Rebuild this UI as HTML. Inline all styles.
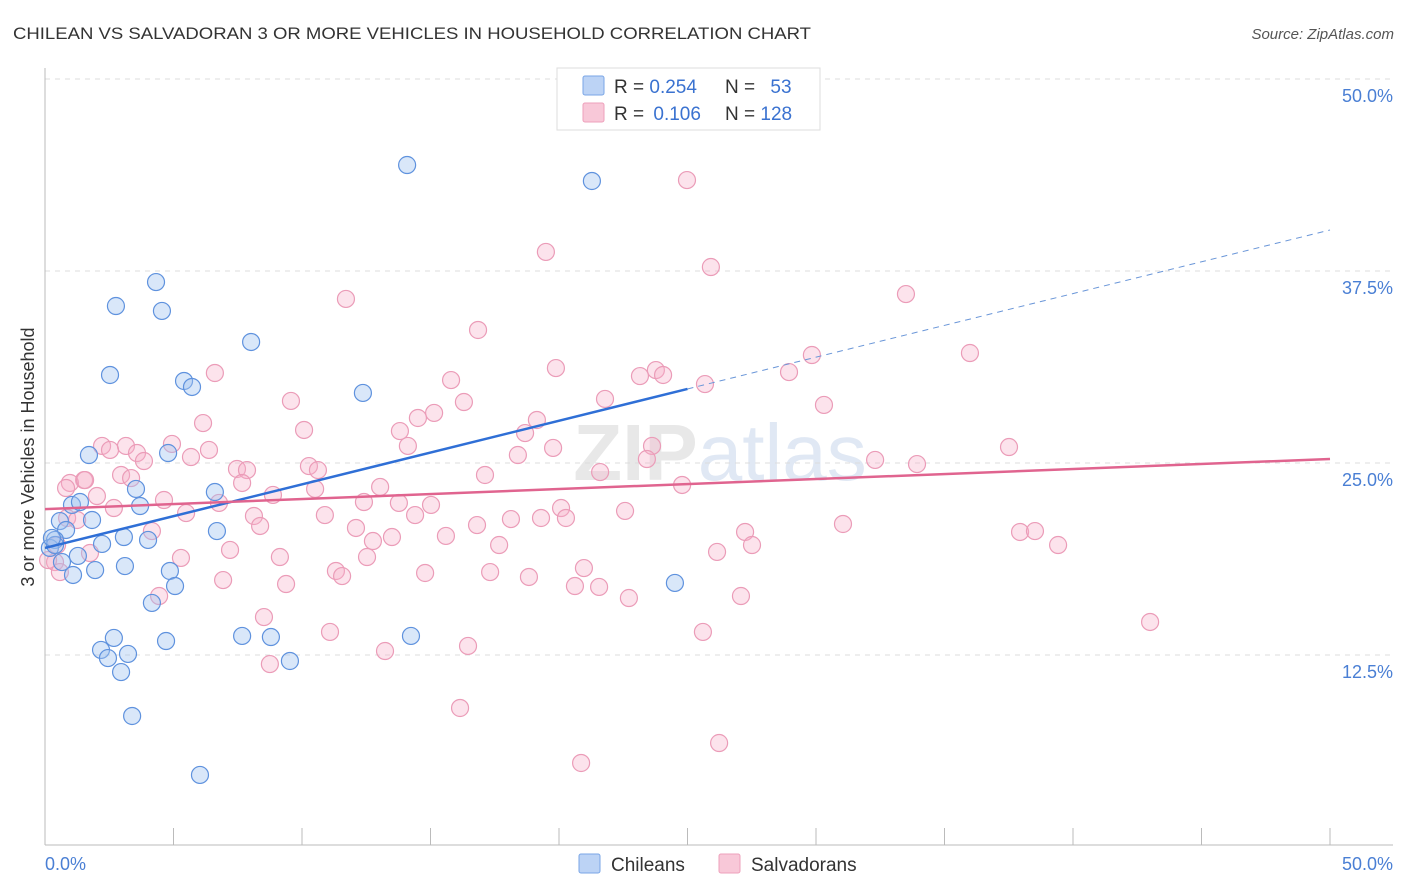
<!DOCTYPE html>
<html><head><meta charset="utf-8"><style>
body{margin:0;background:#fff;font-family:"Liberation Sans",sans-serif}
svg{display:block}
</style></head><body>
<svg id="chart" width="1406" height="892" xmlns="http://www.w3.org/2000/svg">
<text x="13" y="39" font-size="17" fill="#333" textLength="798" lengthAdjust="spacingAndGlyphs">CHILEAN VS SALVADORAN 3 OR MORE VEHICLES IN HOUSEHOLD CORRELATION CHART</text>
<text x="1394" y="39" font-size="15" fill="#555" text-anchor="end" font-style="italic">Source: ZipAtlas.com</text>
<text x="720" y="480" font-size="80" fill="#e8e8e8" text-anchor="middle" font-weight="bold">ZIP<tspan fill="#e0e8f4" font-weight="normal">atlas</tspan></text>
<g id="grid"></g>
<g id="axes"></g>
<g id="pinkPts"></g>
<g id="bluePts"></g>
<g id="lines"></g>
<text transform="translate(34,457) rotate(-90)" font-size="18" fill="#333" text-anchor="middle">3 or more Vehicles in Household</text>
<text x="45" y="870" font-size="18" fill="#4a7fd4">0.0%</text>
<text x="1393" y="870" font-size="18" fill="#4a7fd4" text-anchor="end">50.0%</text>
<g>
<rect x="557" y="68" width="263" height="62" fill="#fff" stroke="#ddd"/>
<rect x="583" y="76" width="21" height="19" fill="#bcd3f5" stroke="#7aa6e6" rx="2"/>
<rect x="583" y="103" width="21" height="19" fill="#f8c8d8" stroke="#eea0bb" rx="2"/>
<text x="614" y="93" font-size="19" fill="#333">R = <tspan fill="#3a72d0">0.254</tspan></text>
<text x="725" y="93" font-size="19" fill="#333">N = <tspan fill="#3a72d0" dx="10">53</tspan></text>
<text x="614" y="120" font-size="19" fill="#333">R = <tspan fill="#3a72d0" dx="4">0.106</tspan></text>
<text x="725" y="120" font-size="19" fill="#333">N = <tspan fill="#3a72d0">128</tspan></text>
</g>
<g>
<rect x="579" y="854" width="21" height="19" fill="#bcd3f5" stroke="#7aa6e6" rx="2"/>
<text x="611" y="871" font-size="19" fill="#333">Chileans</text>
<rect x="719" y="854" width="21" height="19" fill="#f8c8d8" stroke="#eea0bb" rx="2"/>
<text x="751" y="871" font-size="19" fill="#333">Salvadorans</text>
</g>
</svg>
<script>
const yTicks=[12.5,25,37.5,50];
const yTickLabels=["12.5%","25.0%","37.5%","50.0%"];
const xTicks=[5,10,15,20,25,30,35,40,45,50];
const blueX=[14.09,21.28,4.32,2.76,4.55,8.02,2.53,5.41,5.72,12.37,1.71,4.79,3.54,6.61,1.05,1.36,3.70,1.83,0.58,0.82,6.69,3.07,4.01,2.22,0.39,0.19,1.28,0.66,3.11,1.95,4.86,1.09,5.06,4.16,24.51,2.68,4.71,7.67,8.79,14.24,2.18,3.23,2.45,9.53,2.96,3.39,6.03,0.39,0.27];
const blueY=[44.4,43.36,36.78,35.22,34.9,32.88,30.73,30.34,29.95,29.56,25.52,25.65,23.31,23.11,22.27,22.46,22.2,21.29,21.22,20.64,20.57,20.18,19.99,19.73,19.99,19.47,18.95,18.55,18.29,18.03,17.97,17.71,16.99,15.89,17.19,13.61,13.41,13.74,13.67,13.74,12.83,12.57,12.3,12.11,11.39,8.53,4.69,19.66,20.12];
const pinkX=[24.98,19.49,25.91,33.5,11.71,16.85,29.84,35.99,19.88,6.61,15.8,28.95,23.77,23.15,24.05,25.68,21.79,9.57,16.3,15.14,14.51,30.31,19.14,6.15,10.08,13.81,18.68,2.22,3.15,4.94,23.62,37.51,2.53,6.38,19.77,3.58,5.68,3.85,14.12,32.3,33.93,18.4,23.42,10.27,10.62,7.47,7.86,2.96,17.12,21.6,1.52,3.35,0.97,7.67,13.04,24.79,2.02,8.87,10.51,4.63,6.77,12.41,13.77,15.02,5.49,20.08,22.57,2.68,10.89,14.4,0.86,8.13,16.81,18.13,20.27,19.3,31.05,8.37,4.16,12.1,27.24,37.94,38.52,15.6,13.5,12.76,17.67,27.51,39.42,7.2,1.75,9.14,26.15,12.53,5.29,0.39,0.58,11.32,11.56,17.32,18.83,20.97,14.79,6.93,9.38,20.62,21.56,22.72,27.08,4.44,8.52,11.09,25.6,43.0,16.46,13.23,8.75,16.15,26.23,20.86,0.82,1.56,1.25,0.47,0.12];
const pinkY=[43.42,38.74,37.76,36.0,35.68,33.66,32.03,32.16,31.18,30.86,30.4,30.92,31.05,30.66,30.73,30.14,29.17,29.04,28.97,28.26,27.93,28.78,27.8,27.6,27.15,27.08,26.95,26.11,26.11,26.24,26.11,26.04,25.85,25.85,25.98,25.65,25.39,25.13,26.11,25.2,24.93,25.52,25.26,24.8,24.54,24.61,24.54,24.22,24.22,24.41,23.89,24.02,23.7,23.7,23.44,23.57,22.85,22.92,23.31,22.59,22.4,22.46,22.4,22.27,21.74,22.07,21.88,22.07,21.61,21.61,21.42,21.55,20.96,21.35,21.42,21.42,21.03,20.9,20.57,20.77,20.51,20.51,20.57,20.25,20.18,19.92,19.66,19.66,19.66,19.34,19.14,18.88,19.21,18.88,18.82,18.55,17.9,17.97,17.64,17.9,17.58,18.16,17.84,17.38,17.12,16.99,16.93,16.21,16.34,16.34,14.97,14.0,14.0,14.65,13.09,12.76,11.91,9.05,6.77,5.47,23.37,23.89,21.29,19.66,18.68];
const blueTrend=[19.47,0.414];
const blueTrendEnd=25;
const pinkTrend=[22.0,0.0652];

const NS="http://www.w3.org/2000/svg";
const X=v=>45+v*25.7;
const Y=v=>847-v*15.36;
function mk(tag,attrs,parent){const e=document.createElementNS(NS,tag);for(const k in attrs)e.setAttribute(k,attrs[k]);parent.appendChild(e);return e;}
const grid=document.getElementById('grid'),axes=document.getElementById('axes');
yTicks.forEach((t,i)=>{
  const l=mk('line',{x1:45,x2:1393,y1:Y(t),y2:Y(t),stroke:'#ddd','stroke-dasharray':'5,5'},grid);
  
  
  const tx=mk('text',{x:1393,y:Y(t)+23,'font-size':18,fill:'#4a7fd4','text-anchor':'end'},grid);
  tx.textContent=yTickLabels[i];
  
  
});
const ax=mk('line',{x1:45,x2:1393,y1:845,y2:845,stroke:'#bbb'},axes);


const ay=mk('line',{x1:45,x2:45,y1:68,y2:845,stroke:'#bbb'},axes);


xTicks.forEach(t=>{
  const l=mk('line',{x1:X(t),x2:X(t),y1:828,y2:845,stroke:'#bbb'},axes);
  
  
});
const pg=document.getElementById('pinkPts');
pinkX.forEach((v,i)=>{
  const c=mk('circle',{cx:X(v),cy:Y(pinkY[i]),r:8.5,fill:'rgba(246,175,200,0.35)',stroke:'#eb9cb8','stroke-width':1.2},pg);
  
  
});
const bg=document.getElementById('bluePts');
blueX.forEach((v,i)=>{
  const c=mk('circle',{cx:X(v),cy:Y(blueY[i]),r:8.5,fill:'rgba(160,195,240,0.4)',stroke:'#5f92de','stroke-width':1.2},bg);
  
  
});
const lg=document.getElementById('lines');
const bMax=blueTrendEnd;
const b1=mk('line',{x1:X(0),y1:Y(blueTrend[0]),x2:X(bMax),y2:Y(blueTrend[0]+blueTrend[1]*bMax),stroke:'#2f6fd6','stroke-width':2.5},lg);


const b2=mk('line',{x1:X(bMax),y1:Y(blueTrend[0]+blueTrend[1]*bMax),x2:X(50),y2:Y(blueTrend[0]+blueTrend[1]*50),stroke:'#6a96d8','stroke-width':1,'stroke-dasharray':'6,5'},lg);


const p1=mk('line',{x1:X(0),y1:Y(pinkTrend[0]),x2:X(50),y2:Y(pinkTrend[0]+pinkTrend[1]*50),stroke:'#e0648f','stroke-width':2.5},lg);


</script>
</body></html>
